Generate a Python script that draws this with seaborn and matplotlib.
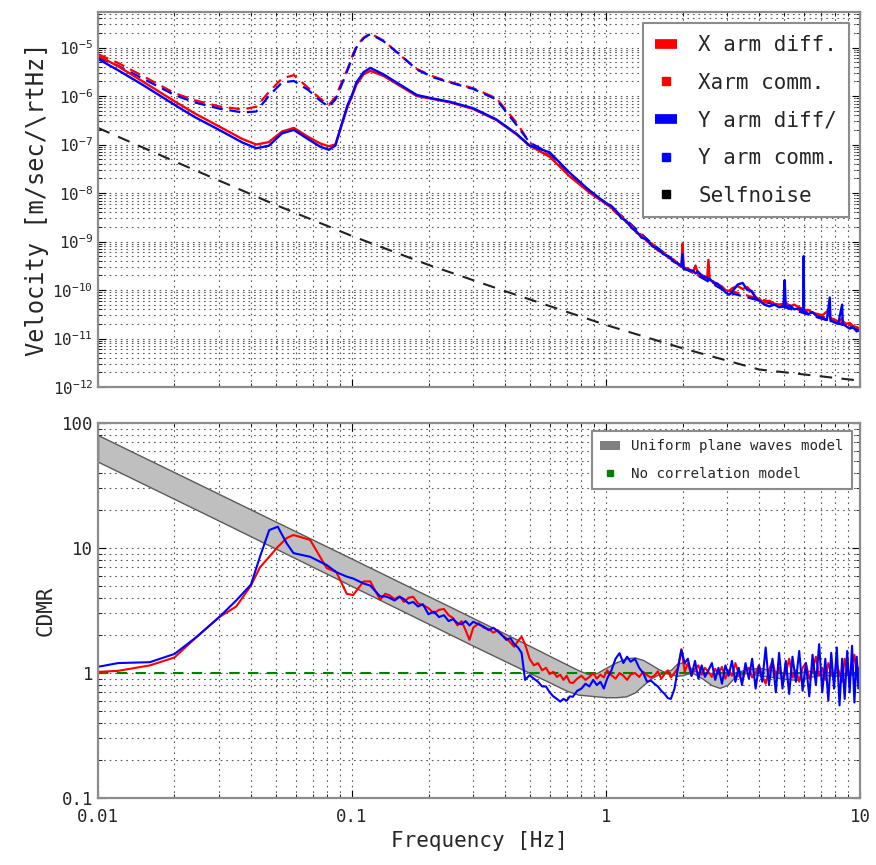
import math
import matplotlib
matplotlib.use("Agg")
import matplotlib.pyplot as plt
from matplotlib.lines import Line2D
from matplotlib.patches import Patch
from matplotlib.ticker import LogLocator, FuncFormatter
import seaborn as sns

sns.set_style("ticks")
plt.rcParams["font.family"] = ["DejaVu Sans Mono", "DejaVu Sans"]
plt.rcParams["mathtext.fontset"] = "custom"
plt.rcParams["mathtext.rm"] = "DejaVu Sans Mono"
plt.rcParams["mathtext.it"] = "DejaVu Sans Mono"
plt.rcParams["mathtext.bf"] = "DejaVu Sans Mono"

RED = "#ff0000"
BLUE = "#0000ff"
FRAME = "#8c8c8c"

# ---- top panel: velocity spectra [m/sec/rtHz] ----
freq_lo = [0.0100, 0.0120, 0.0150, 0.0200, 0.0240, 0.0300, 0.0370, 0.0420, 0.0470,
           0.0530, 0.0590, 0.0670, 0.0750, 0.0810, 0.0860, 0.0910, 0.0960, 0.1000,
           0.1040, 0.1110, 0.1180, 0.1330, 0.1550, 0.1800, 0.2100, 0.2430, 0.3000,
           0.3700, 0.4450, 0.5000, 0.6000, 0.7200, 0.8650, 1.0000]
x_diff_lo = [6.8e-6, 4.1e-6, 2.0e-6, 7.8e-7, 4.4e-7, 2.35e-7, 1.3e-7, 1.0e-7, 1.12e-7,
             1.85e-7, 2.2e-7, 1.45e-7, 1.05e-7, 9.2e-8, 1.0e-7, 2.5e-7, 6.0e-7, 1.0e-6,
             1.7e-6, 2.8e-6, 3.3e-6, 2.6e-6, 1.6e-6, 1.0e-6, 8.6e-7, 7.4e-7, 5.4e-7,
             3.2e-7, 1.6e-7, 9.5e-8, 5.6e-8, 2.2e-8, 1.0e-8, 6.0e-9]
y_diff_lo = [5.8e-6, 3.4e-6, 1.7e-6, 6.6e-7, 3.7e-7, 2.0e-7, 1.1e-7, 8.4e-8, 9.4e-8,
             1.7e-7, 2.0e-7, 1.3e-7, 9.0e-8, 7.8e-8, 9.5e-8, 2.6e-7, 6.5e-7, 1.05e-6,
             1.9e-6, 3.1e-6, 3.8e-6, 2.8e-6, 1.7e-6, 1.05e-6, 8.8e-7, 7.6e-7, 5.6e-7,
             3.3e-7, 1.65e-7, 9.5e-8, 6.9e-8, 2.6e-8, 1.1e-8, 6.2e-9]
x_comm_lo = [7.3e-6, 4.8e-6, 2.6e-6, 1.15e-6, 8.2e-7, 6.1e-7, 5.3e-7, 6.0e-7, 1.2e-6,
             2.3e-6, 2.7e-6, 1.5e-6, 8.8e-7, 6.5e-7, 9.5e-7, 1.9e-6, 3.6e-6, 6.5e-6,
             1.05e-5, 1.6e-5, 1.95e-5, 1.4e-5, 6.9e-6, 3.6e-6, 2.5e-6, 1.95e-6, 1.45e-6,
             9.0e-7, 2.8e-7, 1.1e-7, 5.8e-8, 2.3e-8, 1.05e-8, 6.0e-9]
y_comm_lo = [6.2e-6, 4.2e-6, 2.3e-6, 1.05e-6, 7.4e-7, 5.5e-7, 4.6e-7, 4.8e-7, 1.0e-6,
             1.9e-6, 2.05e-6, 1.35e-6, 8.0e-7, 6.0e-7, 8.5e-7, 1.7e-6, 3.4e-6, 6.0e-6,
             1.0e-5, 1.55e-5, 1.9e-5, 1.35e-5, 7.0e-6, 3.5e-6, 2.4e-6, 1.9e-6, 1.4e-6,
             8.5e-7, 2.5e-7, 1.1e-7, 6.6e-8, 2.5e-8, 1.1e-8, 6.2e-9]

freq_hi = [1.05, 1.1, 1.15, 1.2, 1.26, 1.32, 1.38, 1.45, 1.52, 1.6, 1.68, 1.76, 1.85,
           1.94, 1.98, 2.0, 2.02, 2.1, 2.2, 2.25, 2.3, 2.4, 2.5, 2.53, 2.56, 2.65,
           2.75, 2.85, 2.95, 3.05, 3.15, 3.3, 3.45, 3.6, 3.75, 3.9, 4.05, 4.2, 4.4,
           4.6, 4.8, 5.0, 5.05, 5.1, 5.3, 5.5, 5.75, 5.98, 6.0, 6.02, 6.25, 6.5, 6.8,
           7.1, 7.4, 7.6, 7.65, 7.9, 8.2, 8.5, 8.55, 8.8, 9.1, 9.4, 9.7, 10.0]
x_diff_hi = [5.0e-9, 3.8e-9, 3.4e-9, 2.5e-9, 2.1e-9, 1.5e-9, 1.35e-9, 1.0e-9, 9.0e-10,
             6.5e-10, 6.0e-10, 4.6e-10, 4.2e-10, 3.2e-10, 3.0e-10, 9.0e-10, 2.9e-10,
             2.8e-10, 2.3e-10, 3.2e-10, 2.2e-10, 2.0e-10, 1.7e-10, 4.2e-10, 1.6e-10,
             1.5e-10, 1.3e-10, 1.2e-10, 1.0e-10, 9.5e-11, 1.1e-10, 1.2e-10, 1.05e-10,
             1.15e-10, 9.0e-11, 7.0e-11, 6.2e-11, 5.5e-11, 6.0e-11, 5.2e-11, 5.0e-11,
             5.2e-11, 4.8e-11, 5.5e-11, 4.6e-11, 5.0e-11, 4.4e-11, 4.0e-11, 4.2e-11,
             3.8e-11, 3.9e-11, 3.4e-11, 3.2e-11, 3.0e-11, 3.6e-11, 2.8e-11, 2.6e-11,
             2.5e-11, 2.2e-11, 2.6e-11, 2.3e-11, 2.0e-11, 2.1e-11, 1.8e-11, 1.7e-11,
             1.6e-11]
y_diff_hi = [5.4e-9, 4.2e-9, 3.0e-9, 2.7e-9, 1.9e-9, 1.6e-9, 1.2e-9, 1.1e-9, 8.0e-10,
             7.0e-10, 5.5e-10, 5.0e-10, 3.8e-10, 3.4e-10, 3.1e-10, 5.5e-10, 2.7e-10,
             2.6e-10, 2.5e-10, 2.2e-10, 2.4e-10, 1.9e-10, 1.8e-10, 1.6e-10, 1.7e-10,
             1.4e-10, 1.35e-10, 1.1e-10, 9.0e-11, 8.0e-11, 9.5e-11, 1.3e-10, 1.4e-10,
             1.0e-10, 9.5e-11, 6.5e-11, 5.8e-11, 5.0e-11, 4.6e-11, 5.0e-11, 4.4e-11,
             4.6e-11, 1.6e-10, 4.4e-11, 4.8e-11, 4.0e-11, 4.2e-11, 3.6e-11, 5.0e-10,
             3.7e-11, 3.2e-11, 3.5e-11, 2.8e-11, 2.7e-11, 2.4e-11, 7.0e-11, 2.3e-11,
             2.2e-11, 2.0e-11, 5.0e-11, 2.0e-11, 1.8e-11, 1.6e-11, 1.7e-11, 1.4e-11,
             1.5e-11]

freq_comm_hi = [1.2, 1.5, 2.0, 3.0, 5.0, 7.0, 10.0]
x_comm_hi = [2.6e-9, 9.0e-10, 2.9e-10, 1.0e-10, 4.8e-11, 2.9e-11, 1.6e-11]
y_comm_hi = [2.8e-9, 9.5e-10, 3.0e-10, 9.0e-11, 4.5e-11, 2.6e-11, 1.5e-11]

freq_self = [0.01, 0.02, 0.05, 0.1, 0.2, 0.4, 1.0, 2.0, 4.0, 10.0]
selfnoise = [2.2e-7, 4.5e-8, 5.7e-9, 1.3e-9, 3.3e-10, 9.5e-11, 1.9e-11, 6.3e-12,
             2.3e-12, 1.35e-12]

# ---- bottom panel: CDMR ----
freq_cd = [0.0100, 0.0120, 0.0160, 0.0200, 0.0245, 0.0300, 0.0350, 0.0400, 0.0434,
           0.0472, 0.0510, 0.0553, 0.0588, 0.0684, 0.0795, 0.0868, 0.0953, 0.1010,
           0.1110, 0.1180, 0.1290,
           0.135, 0.14, 0.147, 0.154, 0.16, 0.167, 0.174, 0.182, 0.19, 0.2, 0.21,
           0.22, 0.23, 0.24, 0.25, 0.26, 0.27, 0.28, 0.29, 0.30, 0.315, 0.33, 0.345,
           0.36, 0.375, 0.39, 0.405, 0.42, 0.435, 0.45, 0.465, 0.48, 0.5, 0.52, 0.54,
           0.56, 0.58, 0.6, 0.62, 0.64, 0.66, 0.68, 0.7, 0.72, 0.74, 0.77, 0.8, 0.83,
           0.86, 0.89, 0.92, 0.95, 0.98, 1.01, 1.05, 1.09, 1.13, 1.17, 1.21, 1.25,
           1.3, 1.35, 1.4, 1.45, 1.5,
           1.55, 1.6, 1.65, 1.7, 1.75, 1.8, 1.86, 1.92, 1.98, 2.04, 2.1, 2.17, 2.24,
           2.31, 2.38, 2.45, 2.53, 2.61, 2.69, 2.77, 2.86, 2.95, 3.04, 3.13, 3.23,
           3.33, 3.43, 3.54, 3.65, 3.76, 3.88, 4.0, 4.12, 4.25, 4.38, 4.52, 4.66,
           4.8, 4.95, 5.1, 5.26, 5.42, 5.59, 5.76, 5.94, 6.12, 6.31, 6.5, 6.7, 6.9,
           7.1, 7.3, 7.5, 7.7, 7.9, 8.1, 8.3, 8.5, 8.7, 8.9, 9.1, 9.3, 9.5, 9.7,
           9.85, 10.0]
cdmr_x = [1.02, 1.04, 1.15, 1.33, 1.95, 2.8, 3.4, 5.0, 7.0, 8.5, 10.2, 12.0, 12.7,
          11.6, 6.9, 6.4, 4.3, 4.2, 5.4, 5.4, 3.85,
          4.3, 4.2, 3.9, 4.1, 3.7, 4.0, 4.07, 3.6, 3.5, 3.3, 3.0, 3.2, 3.25, 2.9,
          2.75, 2.4, 2.6, 2.2, 1.84, 2.3, 2.5, 2.3, 2.25, 2.1, 2.2, 2.0, 1.9, 1.75,
          1.62, 1.8, 1.95, 1.7, 1.3, 1.15, 1.2, 1.05, 1.1, 0.98, 1.02, 0.93, 0.97,
          0.88, 0.95, 0.84, 0.83, 0.9, 0.95, 0.88, 0.93, 1.0, 0.9, 0.97, 0.92, 1.05,
          0.96, 0.9, 1.0, 0.95, 0.88, 0.97, 1.0, 0.93, 1.02, 0.96, 0.92,
          0.95, 1.03, 0.9, 0.98, 1.05, 0.92, 1.0, 1.1, 1.55, 1.02, 1.2, 0.95, 1.08,
          1.15, 0.97, 1.1, 1.02, 0.93, 1.08, 0.98, 1.12, 0.9, 1.05, 0.95, 1.2, 0.98,
          0.85, 1.05, 1.1, 0.92, 1.0, 1.15, 0.95, 0.82, 1.05, 1.25, 0.95, 1.1, 0.9,
          1.0, 1.3, 0.92, 1.05, 0.85, 1.1, 1.2, 0.9, 1.05, 1.35, 0.95, 1.1, 0.88,
          1.2, 1.0, 0.9, 1.15, 1.0, 0.85, 1.3, 1.05, 0.92, 1.2, 1.4, 0.95, 1.1, 1.0]
cdmr_y = [1.12, 1.2, 1.22, 1.42, 1.95, 2.8, 3.8, 5.1, 8.5, 13.9, 14.8, 10.9, 9.1,
          8.5, 7.3, 6.4, 5.9, 5.7, 5.2, 5.0, 4.1,
          4.1, 4.0, 3.8, 4.07, 3.9, 3.6, 3.7, 3.4, 3.55, 2.95, 3.1, 2.8, 2.9, 2.6,
          2.7, 2.5, 2.45, 2.6, 2.4, 2.57, 2.45, 2.35, 2.2, 2.3, 2.15, 2.0, 1.84,
          1.9, 1.7, 1.6, 1.45, 0.88, 0.96, 0.9, 0.85, 0.78, 0.78, 0.7, 0.65, 0.62,
          0.59, 0.62, 0.6, 0.65, 0.645, 0.72, 0.75, 0.82, 0.78, 0.88, 0.8, 0.85,
          0.75, 0.9, 1.05, 1.3, 1.44, 1.2, 1.35, 1.23, 1.3, 1.1, 1.0, 0.85, 0.87,
          0.82, 0.78, 0.72, 0.68, 0.63, 0.62, 0.75, 1.1, 1.53, 1.2, 1.3, 0.95, 1.25,
          0.9, 1.15, 0.93, 1.05, 1.2, 0.88, 1.1, 0.82, 1.15, 0.95, 1.25, 0.85, 1.1,
          0.8, 1.2, 0.9, 1.3, 0.75, 1.15, 0.85, 1.6, 0.8, 1.3, 0.7, 1.45, 0.75, 1.25,
          0.68, 1.35, 0.85, 1.5, 0.72, 1.2, 0.65, 1.4, 0.8, 1.7, 0.7, 1.3, 0.6, 1.45,
          0.75, 1.6, 0.55, 1.3, 0.62, 1.5, 0.7, 1.65, 0.58, 1.35, 0.75, 1.2]

# uniform plane waves model: band edges
freq_band = [0.01, 0.03, 0.1, 0.3, 0.5, 0.6, 0.7, 0.78, 0.85, 0.92, 1.0, 1.1, 1.2,
             1.3, 1.4, 1.5, 1.6, 1.7, 1.8, 1.9, 2.0, 2.1, 2.2, 2.4, 2.6, 2.8, 3.0,
             3.2, 3.5, 4.0, 4.5, 5.0, 5.6, 6.2, 7.0, 8.0, 9.0, 10.0]
band_upper = [80, 27, 8.2, 2.75, 1.65, 1.37, 1.17, 1.05, 0.98, 1.0, 1.1, 1.22, 1.31,
              1.33, 1.27, 1.17, 1.08, 1.02, 1.06, 1.18, 1.22, 1.15, 1.05, 1.0, 1.0,
              1.0, 1.0, 1.0, 1.06, 1.1, 1.05, 1.0, 1.0, 1.04, 1.03, 1.0, 1.0, 1.0]
band_lower = [49, 16.5, 4.95, 1.65, 1.0, 0.84, 0.72, 0.67, 0.66, 0.65, 0.64, 0.64,
              0.65, 0.7, 0.8, 0.9, 0.97, 1.0, 0.98, 0.95, 0.96, 0.99, 1.0, 0.9, 0.8,
              0.76, 0.8, 0.92, 1.0, 0.96, 0.93, 0.9, 0.88, 0.92, 0.97, 0.95, 0.97, 0.97]

freq_flat = [0.01, 10.0]
no_corr = [1.0, 1.0]


def style_axis(ax):
    ax.set_xscale("log")
    ax.set_yscale("log")
    ax.set_xlim(0.01, 10)
    ax.xaxis.set_major_locator(LogLocator(base=10))
    ax.xaxis.set_minor_locator(LogLocator(base=10, subs=range(2, 10)))
    ax.yaxis.set_major_locator(LogLocator(base=10, numticks=20))
    ax.yaxis.set_minor_locator(LogLocator(base=10, subs=range(2, 10), numticks=20))
    ax.grid(True, which="both", ls=(0, (1.5, 3.5)), color="#222222", lw=0.8,
            alpha=0.75)
    ax.tick_params(which="both", direction="in", top=True, right=True, color="k")
    ax.tick_params(which="major", length=6, labelsize=11.5)
    ax.tick_params(which="minor", length=3)
    for sp in ax.spines.values():
        sp.set_color(FRAME)
        sp.set_linewidth(1.6)
    ax.set_axisbelow(True)


def line(ax, x, y, color, lw=1.5, ls="-"):
    sns.lineplot(x=x, y=y, ax=ax, color=color, lw=lw, linestyle=ls,
                 estimator=None, sort=False)


fig = plt.figure(figsize=(8.76, 8.65), dpi=100)
ax1 = fig.add_axes([0.1119, 0.5526, 0.8699, 0.4335])
ax2 = fig.add_axes([0.1119, 0.0775, 0.8699, 0.4335])

# top panel
dash = (0, (5, 3))
line(ax1, freq_lo + freq_comm_hi, x_comm_lo + x_comm_hi, RED, 1.6, dash)
line(ax1, freq_lo + freq_comm_hi, y_comm_lo + y_comm_hi, BLUE, 1.6, dash)
line(ax1, freq_lo + freq_hi, x_diff_lo + x_diff_hi, RED, 1.7)
line(ax1, freq_lo + freq_hi, y_diff_lo + y_diff_hi, BLUE, 1.7)
line(ax1, freq_self, selfnoise, "#222222", 1.5, (0, (6, 4.5)))
style_axis(ax1)
ax1.set_ylim(1e-12, 5.4e-5)
ax1.tick_params(axis="x", which="both", labelbottom=False)
ax1.set_xlabel("")
ax1.set_ylabel("Velocity [m/sec/\\rtHz]", fontsize=17, labelpad=2)
ax1.yaxis.set_major_formatter(
    FuncFormatter(lambda v, p: "$10^{%d}$" % round(math.log10(v))))

top_handles = [
    Line2D([], [], color=RED, lw=7, solid_capstyle="butt"),
    Line2D([], [], color=RED, marker="s", ls="none", markersize=6),
    Line2D([], [], color=BLUE, lw=7, solid_capstyle="butt"),
    Line2D([], [], color=BLUE, marker="s", ls="none", markersize=6),
    Line2D([], [], color="k", marker="s", ls="none", markersize=6),
]
top_labels = ["X arm diff.", "Xarm comm.", "Y arm diff/", "Y arm comm.", "Selfnoise"]
leg1 = ax1.legend(top_handles, top_labels, loc="upper right", fontsize=15,
                  handlelength=1.1, handletextpad=1.0, labelspacing=0.85,
                  borderaxespad=0.55, fancybox=False, framealpha=1,
                  edgecolor=FRAME, borderpad=0.55)
leg1.get_frame().set_linewidth(1.5)

# bottom panel
ax2.fill_between(freq_band, band_lower, band_upper, facecolor="#bfbfbf",
                 edgecolor="#5a5a5a", lw=1.0, zorder=2)
line(ax2, freq_flat, no_corr, "#008000", 1.5, (0, (5, 4)))
line(ax2, freq_cd, cdmr_x, RED, 1.5)
line(ax2, freq_cd, cdmr_y, BLUE, 1.5)
style_axis(ax2)
ax2.set_ylim(0.1, 100)
fmt = FuncFormatter(lambda v, p: "%g" % v)
ax2.xaxis.set_major_formatter(fmt)
ax2.yaxis.set_major_formatter(fmt)
ax2.tick_params(axis="x", which="major", labelsize=12.5, pad=7)
ax2.tick_params(axis="y", which="major", labelsize=12.5)
ax2.set_xlabel("Frequency [Hz]", fontsize=15)
ax2.set_ylabel("CDMR", fontsize=15)

bot_handles = [Patch(facecolor="#808080", edgecolor="none"),
               Line2D([], [], color="#008000", marker="s", ls="none", markersize=5)]
bot_labels = ["Uniform plane waves model", "No correlation model"]
leg2 = ax2.legend(bot_handles, bot_labels, loc="upper right", fontsize=10.2,
                  handlelength=1.4, handleheight=0.6, handletextpad=0.8,
                  labelspacing=0.95, borderaxespad=0.55, borderpad=0.6,
                  fancybox=False, framealpha=1, edgecolor=FRAME)
leg2.get_frame().set_linewidth(1.5)

fig.savefig("out.png", dpi=100, facecolor="white")
